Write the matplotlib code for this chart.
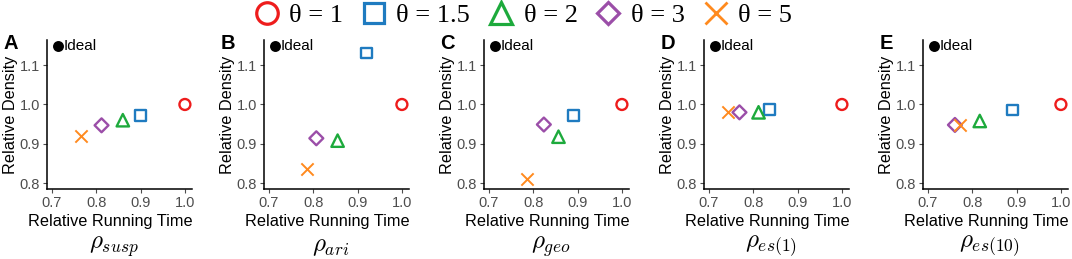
import numpy as np
from matplotlib import pyplot as plt
from matplotlib.lines import Line2D

plt.rcParams['mathtext.fontset'] = 'cm'
plt.rcParams['font.family'] = ['Liberation Sans', 'DejaVu Sans']

theta_labels = ['θ = 1', 'θ = 1.5', 'θ = 2', 'θ = 3', 'θ = 5']
colors = ['#EE1C1C', '#1F7BC0', '#1DAA3C', '#9B4EA8', '#FF8A1E']
markers = ['o', 's', '^', 'D', 'x']

panel_letters = ['A', 'B', 'C', 'D', 'E']
panel_titles = [r'$\rho_{susp}$', r'$\rho_{ari}$', r'$\rho_{geo}$',
                r'$\rho_{es(1)}$', r'$\rho_{es(10)}$']

# relative running time / relative density, one list per panel (theta order)
time_A = [1.0, 0.900, 0.860, 0.812, 0.765]
dens_A = [1.0, 0.972, 0.960, 0.947, 0.920]
time_B = [1.0, 0.921, 0.855, 0.807, 0.785]
dens_B = [1.0, 1.131, 0.908, 0.914, 0.835]
time_C = [1.0, 0.890, 0.857, 0.824, 0.787]
dens_C = [1.0, 0.973, 0.918, 0.949, 0.811]
time_D = [1.0, 0.837, 0.812, 0.769, 0.742]
dens_D = [1.0, 0.988, 0.980, 0.980, 0.980]
time_E = [1.0, 0.890, 0.817, 0.761, 0.772]
dens_E = [1.0, 0.986, 0.958, 0.948, 0.948]

ideal_x = 0.7147
ideal_y = 1.149

times = [time_A, time_B, time_C, time_D, time_E]
dens = [dens_A, dens_B, dens_C, dens_D, dens_E]

# marker sizes (points^2) for the panels
sizes = [62, 62, 80, 50, 78]

W, H = 1072, 259
fig = plt.figure(figsize=(W / 100, H / 100), dpi=100)

lefts = [47, 264, 484, 704, 923]
for i in range(5):
    ax = fig.add_axes([lefts[i] / W, (H - 189) / H, 145 / W, 149 / H])
    for j in range(5):
        if markers[j] == 'x':
            ax.scatter(times[i][j], dens[i][j], marker='x', s=sizes[j], c=colors[j],
                       linewidths=1.4, zorder=3)
        else:
            ax.scatter(times[i][j], dens[i][j], marker=markers[j], s=sizes[j],
                       facecolors='none', edgecolors=colors[j], linewidths=1.7, zorder=3)
    ax.scatter(ideal_x, ideal_y, s=62, c='k', zorder=3, linewidths=0)
    ax.text(ideal_x + 0.0115, ideal_y, 'Ideal', va='center', ha='left', fontsize=11)

    ax.set_xlim(0.689, 1.016)
    ax.set_ylim(0.785, 1.164)
    ax.set_xticks([0.7, 0.8, 0.9, 1.0])
    ax.set_yticks([0.8, 0.9, 1.0, 1.1])
    ax.set_xticklabels(['0.7', '0.8', '0.9', '1.0'])
    ax.set_yticklabels(['0.8', '0.9', '1.0', '1.1'])
    ax.tick_params(labelsize=10.5, colors='#4D4D4D', length=3, width=0.8, pad=2)
    for s in ['top', 'right']:
        ax.spines[s].set_visible(False)
    for s in ['left', 'bottom']:
        ax.spines[s].set_linewidth(1.1)
    ax.set_xlabel('Relative Running Time', fontsize=11.7)
    ax.xaxis.set_label_coords(0.44, -0.165)
    ax.set_ylabel('Relative Density', fontsize=11.7)
    ax.yaxis.set_label_coords(-0.2, 0.5)
    ax.text(0.46, -0.385, panel_titles[i], transform=ax.transAxes, ha='center',
            va='center', fontsize=18)
    ax.text(-0.3, 0.975, panel_letters[i], transform=ax.transAxes, ha='left',
            va='center', fontsize=14.5, fontweight='bold')

handles = []
leg_sizes = [15.5, 14, 16.5, 11.5, 15.5]
for j in range(5):
    if markers[j] == 'x':
        h = Line2D([], [], marker='x', color=colors[j], linestyle='none',
                   markersize=leg_sizes[j], markeredgewidth=2.0)
    else:
        h = Line2D([], [], marker=markers[j], color=colors[j], linestyle='none',
                   markersize=leg_sizes[j], markerfacecolor='none', markeredgewidth=2.3)
    handles.append(h)
fig.legend(handles, theta_labels, loc='center', bbox_to_anchor=(0.487, 0.94),
           ncol=5, frameon=False, handlelength=1.1, handletextpad=0.3,
           columnspacing=0.62, borderpad=0, prop={'family': 'Liberation Serif', 'size': 19})

fig.savefig('out.png', dpi=100)
